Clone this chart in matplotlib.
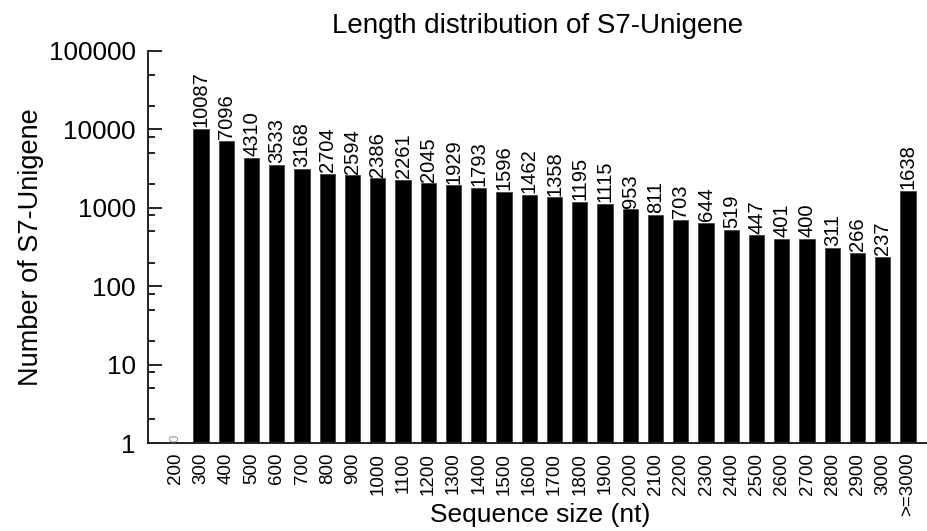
import numpy as np
import matplotlib
matplotlib.use("Agg")
from matplotlib import pyplot as plt
from matplotlib.ticker import FixedLocator, NullFormatter

sizes = ["200", "300", "400", "500", "600", "700", "800", "900", "1000", "1100",
         "1200", "1300", "1400", "1500", "1600", "1700", "1800", "1900", "2000", "2100",
         "2200", "2300", "2400", "2500", "2600", "2700", "2800", "2900", "3000", ">=3000"]
counts = [0, 10087, 7096, 4310, 3533, 3168, 2704, 2594, 2386, 2261,
          2045, 1929, 1793, 1596, 1462, 1358, 1195, 1115, 953, 811,
          703, 644, 519, 447, 401, 400, 311, 266, 237, 1638]
y_ticks = [1, 10, 100, 1000, 10000, 100000]

plt.rcParams['font.family'] = ['Liberation Sans', 'DejaVu Sans']

fig = plt.figure(figsize=(9.27, 5.31), dpi=100)
ax = fig.add_axes([0.1597, 0.1657, 0.8403, 0.7383])

x = np.arange(len(sizes))
# zero can't be drawn on a log axis, so only draw the positive bars
vals = np.array(counts, dtype=float)
mask = vals > 0
ax.bar(x[mask], vals[mask], width=0.6, color="black", edgecolor="#444444", linewidth=0.6)

ax.set_yscale("log")
ax.set_ylim(1, 100000)
ax.set_xlim(-1.1, 29.75)

# value labels above the bars
for xi, v in zip(x, counts):
    if v > 0:
        ax.text(xi, v * 1.05, str(v), rotation=90, ha="center", va="bottom", fontsize=14.5)
    else:
        ax.text(xi, 1.02, "0", rotation=90, ha="center", va="bottom", fontsize=9.5,
                color="#999999")

ax.yaxis.set_major_locator(FixedLocator(y_ticks))
ax.set_yticklabels([str(t) for t in y_ticks], fontsize=18.8)
minor = [m * 10 ** d for d in range(0, 5) for m in (2, 5, 8)]
minor = [m for m in minor if m < 80000]
ax.yaxis.set_minor_locator(FixedLocator(minor))
ax.yaxis.set_minor_formatter(NullFormatter())
ax.tick_params(axis="y", which="major", direction="in", length=10, width=1.2, pad=9)
ax.tick_params(axis="y", which="minor", direction="in", length=5, width=1.2)

ax.set_xticks(x)
ax.set_xticklabels(sizes, rotation=90, fontsize=13.5)
ax.tick_params(axis="x", length=0, pad=7)

for s in ["top", "right"]:
    ax.spines[s].set_visible(False)
ax.spines["left"].set_linewidth(1.4)
ax.spines["bottom"].set_linewidth(1.4)
ax.spines["left"].set_color("#222222")
ax.spines["bottom"].set_color("#222222")

ax.set_title("Length distribution of S7-Unigene", fontsize=20, pad=13)
ax.set_xlabel("Sequence size (nt)", fontsize=19)
ax.xaxis.set_label_coords(0.503, -0.152)
ax.set_ylabel("Number of S7-Unigene", fontsize=19.5)
ax.yaxis.set_label_coords(-0.134, 0.5)

fig.savefig("out.png", dpi=100)
